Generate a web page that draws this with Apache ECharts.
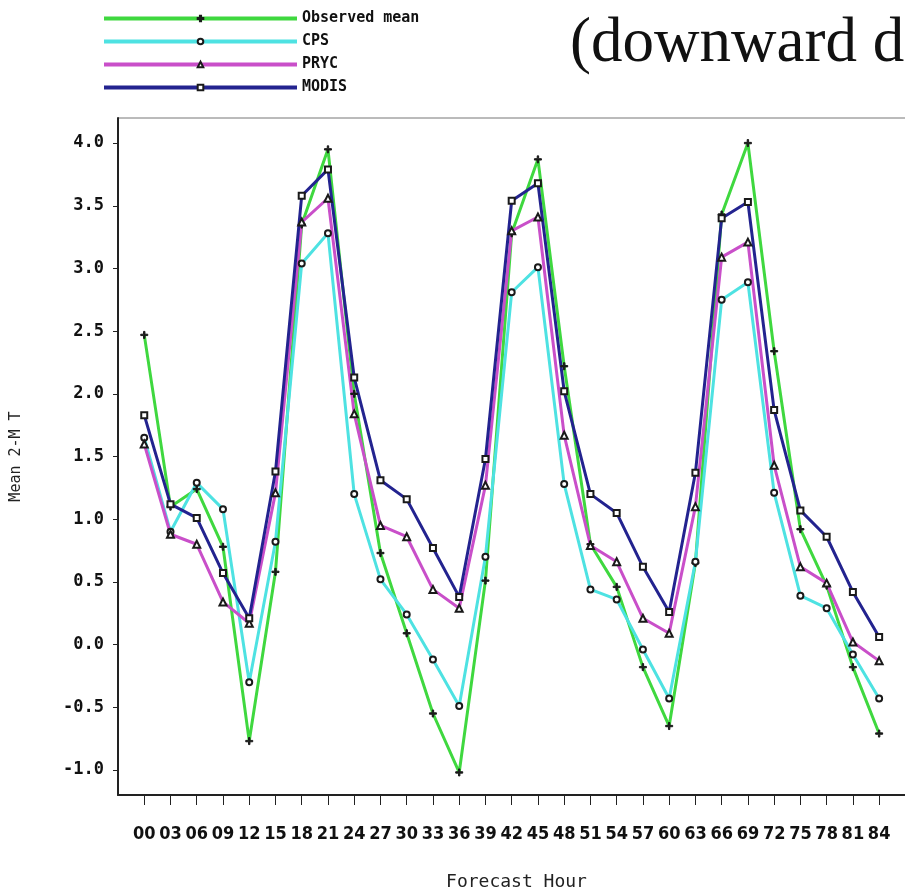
<!DOCTYPE html>
<html>
<head>
<meta charset="utf-8">
<title>Mean 2-M T</title>
<script src="https://cdn.jsdelivr.net/npm/echarts@6/dist/echarts.min.js"></script>
<style>
  html, body { margin: 0; padding: 0; background: #fff; }
  #chart { width: 905px; height: 895px; }
</style>
</head>
<body>
<div id="chart"></div>
<script>
// forecast hours (x categories)
var hours = [0, 3, 6, 9, 12, 15, 18, 21, 24, 27, 30, 33, 36, 39, 42, 45, 48, 51, 54, 57, 60, 63, 66, 69, 72, 75, 78, 81, 84];
var yTicks = [-1.0, -0.5, 0.0, 0.5, 1.0, 1.5, 2.0, 2.5, 3.0, 3.5, 4.0];

// values
var observed = [2.47, 1.10, 1.24, 0.78, -0.77, 0.58, 3.35, 3.95, 2.00, 0.73, 0.09, -0.55, -1.02, 0.51, 3.28, 3.87, 2.22, 0.80, 0.46, -0.18, -0.65, 0.65, 3.43, 4.00, 2.34, 0.92, 0.47, -0.18, -0.71];
var cps      = [1.65, 0.90, 1.29, 1.08, -0.30, 0.82, 3.04, 3.28, 1.20, 0.52, 0.24, -0.12, -0.49, 0.70, 2.81, 3.01, 1.28, 0.44, 0.36, -0.04, -0.43, 0.66, 2.75, 2.89, 1.21, 0.39, 0.29, -0.08, -0.43];
var pryc     = [1.60, 0.88, 0.80, 0.34, 0.17, 1.21, 3.37, 3.56, 1.84, 0.95, 0.86, 0.44, 0.29, 1.27, 3.30, 3.41, 1.67, 0.79, 0.66, 0.21, 0.09, 1.10, 3.09, 3.21, 1.43, 0.62, 0.49, 0.02, -0.13];
var modis    = [1.83, 1.12, 1.01, 0.57, 0.21, 1.38, 3.58, 3.79, 2.13, 1.31, 1.16, 0.77, 0.38, 1.48, 3.54, 3.68, 2.02, 1.20, 1.05, 0.62, 0.26, 1.37, 3.40, 3.53, 1.87, 1.07, 0.86, 0.42, 0.06];

var plusPath = 'path://M4,0H6V4H10V6H6V10H4V6H0V4H4Z';

function pairs(vals) {
  return vals.map(function (v, i) { return [hours[i], v]; });
}

function mkSeries(name, vals, color, symbol, size) {
  return {
    name: name,
    type: 'line',
    data: pairs(vals),
    symbol: symbol,
    symbolSize: size,
    showAllSymbol: true,
    lineStyle: { color: color, width: 3 },
    itemStyle: { color: '#1a1a1a', borderColor: '#1a1a1a', borderWidth: 1 },
    emphasis: { disabled: true },
    z: 3
  };
}

var chart = echarts.init(document.getElementById('chart'));
chart.setOption({
  backgroundColor: '#fff',
  animation: false,
  title: {
    text: '(downward d',
    left: 565,
    top: 8,
    textStyle: { fontFamily: 'Liberation Serif', fontSize: 63, fontWeight: 'normal', color: '#111' }
  },
  legend: {
    orient: 'vertical',
    left: 97,
    top: 6,
    itemWidth: 193,
    itemHeight: 7,
    itemGap: 8,
    lineStyle: { width: 4 },
    textStyle: { fontFamily: 'DejaVu Sans Mono', fontWeight: 'bold', fontSize: 15, color: '#111' },
    data: ['Observed mean', 'CPS', 'PRYC', 'MODIS']
  },
  grid: {
    left: 118,
    right: -10,
    top: 118,
    bottom: 100,
    outerBoundsMode: 'none',
    show: true,
    borderColor: '#777',
    borderWidth: 1
  },
  xAxis: {
    type: 'value',
    min: -3,
    max: 88.1,
    name: 'Forecast Hour',
    nameLocation: 'middle',
    nameGap: 78,
    nameTextStyle: { fontFamily: 'DejaVu Sans Mono', fontSize: 18, color: '#222' },
    axisLine: { onZero: false, lineStyle: { color: '#222', width: 2 } },
    axisTick: { show: true, length: 10, customValues: hours, lineStyle: { color: '#222' } },
    axisLabel: {
      customValues: hours,
      margin: 30,
      fontFamily: 'DejaVu Sans Condensed',
      fontWeight: 'bold',
      fontSize: 18,
      color: '#111',
      formatter: function (v) { return (v < 10 ? '0' : '') + v; }
    },
    splitLine: { show: false }
  },
  yAxis: {
    type: 'value',
    min: -1.2,
    max: 4.2,
    name: 'Mean 2-M T',
    nameLocation: 'middle',
    nameRotate: 90,
    nameGap: 94,
    nameTextStyle: { fontFamily: 'DejaVu Sans Mono', fontSize: 15, color: '#222' },
    axisLine: { show: true, onZero: false, lineStyle: { color: '#222', width: 2 } },
    axisTick: { show: true, length: 5, customValues: yTicks, lineStyle: { color: '#222' } },
    axisLabel: {
      customValues: yTicks,
      margin: 14,
      fontFamily: 'DejaVu Sans Mono',
      fontWeight: 'bold',
      fontSize: 17,
      color: '#111',
      formatter: function (v) { return v.toFixed(1); }
    },
    splitLine: { show: false }
  },
  series: [
    mkSeries('Observed mean', observed, '#3fd83f', plusPath, 7),
    mkSeries('CPS', cps, '#4ee2e2', 'emptyCircle', 6),
    mkSeries('PRYC', pryc, '#c94fc9', 'emptyTriangle', 7),
    mkSeries('MODIS', modis, '#23238f', 'emptyRect', 6)
  ]
});
</script>
</body>
</html>
